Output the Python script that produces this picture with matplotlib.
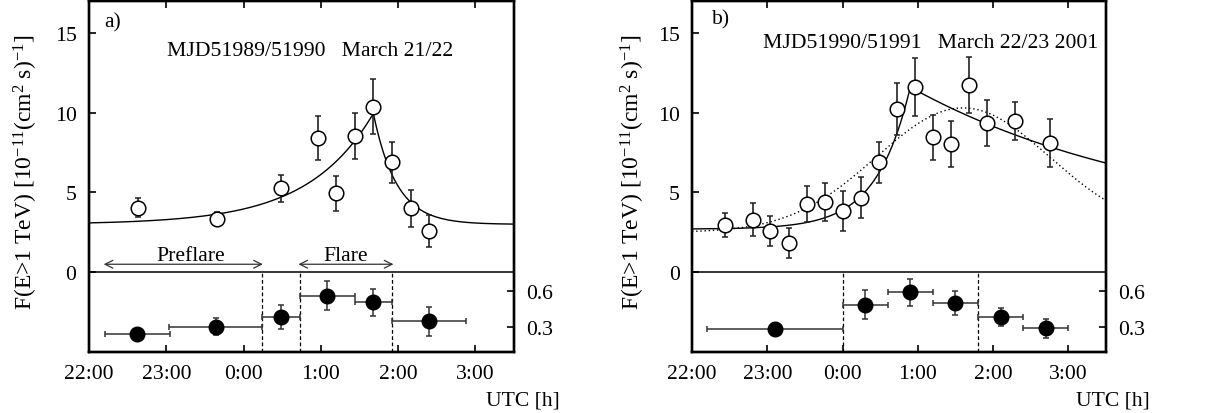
import numpy as np
import matplotlib.pyplot as plt

plt.rcParams['font.family'] = ['Liberation Serif', 'DejaVu Serif']
plt.rcParams['font.size'] = 15.6
plt.rcParams['mathtext.fontset'] = 'custom'
plt.rcParams['mathtext.rm'] = 'Liberation Serif'
plt.rcParams['mathtext.it'] = 'Liberation Serif:italic'

# time axis: hours relative to 0:00 UTC
hour_ticks = [-2, -1, 0, 1, 2, 3]
hour_labels = ['22:00', '23:00', '0:00', '1:00', '2:00', '3:00']

# panel a) flux points
a_t = [-1.37, -0.35, 0.48, 0.96, 1.20, 1.44, 1.68, 1.92, 2.165, 2.40]
a_flux = [4.05, 3.33, 5.25, 8.42, 4.94, 8.54, 10.38, 6.88, 4.0, 2.6]
a_err = [0.6, 0.45, 0.85, 1.4, 1.12, 1.45, 1.74, 1.3, 1.16, 1.0]
# base, amplitude, peak time, rise, decay
a_fit = [3.0, 6.95, 1.68, 0.85, 0.3]

# panel a) hardness ratio points
a_hr_t = [-1.375, -0.36, 0.48, 1.085, 1.68, 2.40]
a_hr_terr = [0.42, 0.6, 0.245, 0.36, 0.24, 0.48]
a_hr = [0.25, 0.305, 0.385, 0.56, 0.505, 0.35]
a_hr_err = [0.04, 0.07, 0.1, 0.12, 0.11, 0.12]
a_cuts = [0.24, 0.725, 1.92]

# panel b) flux points
b_t = [-1.555, -1.195, -0.96, -0.71, -0.477, -0.233, 0.007, 0.24, 0.48,
       0.72, 0.96, 1.20, 1.44, 1.68, 1.925, 2.285, 2.76]
b_flux = [2.96, 3.29, 2.58, 1.85, 4.25, 4.38, 3.85, 4.67, 6.88,
          10.25, 11.6, 8.46, 8.04, 11.75, 9.38, 9.48, 8.12]
b_err = [0.75, 1.05, 0.94, 0.94, 1.13, 1.2, 1.25, 1.3, 1.3,
         1.62, 1.8, 1.42, 1.43, 1.75, 1.44, 1.2, 1.5]
b_fit = [2.7, 8.9, 0.9, 0.45, 3.4]
# base, amplitude, centre, width of the dotted gaussian
b_gauss = [2.5, 7.8, 1.6, 1.15]

# panel b) hardness ratio points
b_hr_t = [-0.9, 0.3, 0.9, 1.5, 2.1, 2.7]
b_hr_terr = [0.9, 0.3, 0.3, 0.3, 0.3, 0.3]
b_hr = [0.29, 0.485, 0.587, 0.5, 0.385, 0.292]
b_hr_err = [0.05, 0.12, 0.11, 0.1, 0.07, 0.08]
b_cuts = [0.0, 1.8]

ylab = r'F(E>1 TeV) [10$^{-11}$(cm$^{2}$ s)$^{-1}$]'

fig = plt.figure(figsize=(12.16, 4.14), dpi=100)
ax_a = fig.add_axes([89/1216, 61/414, 425/1216, 351/414])
ax_b = fig.add_axes([692/1216, 61/414, 414/1216, 351/414])

tt = np.linspace(-2, 3.5, 600)


def burst(t, p):
    base, amp, t0, tr, td = p
    return np.where(t < t0, base + amp*np.exp((t - t0)/tr),
                    base + amp*np.exp(-(t - t0)/td))


def frame(ax, hr_t, hr, hr_terr, hr_err, cuts):
    ax.set_xlim(-2, 3.5)
    ax.set_ylim(-5, 17)
    ax.set_xticks(hour_ticks)
    ax.set_xticklabels(hour_labels)
    ax.set_yticks([0, 5, 10, 15])
    ax.tick_params(direction='in', length=5, width=1.2, top=True,
                   bottom=True, right=False, pad=9)
    for s in ax.spines.values():
        s.set_linewidth(1.7)
    ax.axhline(0, color='k', lw=1.1)
    ax.vlines(cuts, -5, 0, colors='k', linestyles=(0, (3, 2)), lw=0.9)

    # hardness ratio on the right axis, lower strip
    tw = ax.twinx()
    tw.set_ylim(0.1, 0.1 + 0.65*22/5)
    tw.set_yticks([0.3, 0.6])
    tw.set_yticklabels(['0.3', '0.6'])
    tw.tick_params(direction='in', length=5, width=1.2, pad=9)
    for s in tw.spines.values():
        s.set_linewidth(1.7)
    tw.errorbar(hr_t, hr, xerr=hr_terr, yerr=hr_err, fmt='o', ms=10.5,
                color='k', ecolor='#333333', elinewidth=1.1, capsize=2.5,
                capthick=1.1)
    return tw


def flux(ax, t, f, e):
    ax.errorbar(t, f, yerr=e, fmt='o', ms=10.5, mfc='white', mec='k',
                mew=1.1, ecolor='#222222', elinewidth=1.2, capsize=2.5,
                capthick=1.2, zorder=3)


# panel a
frame(ax_a, a_hr_t, a_hr, a_hr_terr, a_hr_err, a_cuts)
ax_a.plot(tt, burst(tt, a_fit), color='k', lw=1.0)
flux(ax_a, a_t, a_flux, a_err)
ax_a.text(0.036, 0.94, 'a)', transform=ax_a.transAxes, va='center')
ax_a.text(0.86, 13.9, 'MJD51989/51990   March 21/22', ha='center', va='center')
ax_a.annotate('', xy=(0.25, 0.5), xytext=(-1.81, 0.5),
              arrowprops=dict(arrowstyle='<->', lw=0.9, color='#333333',
                              mutation_scale=14, shrinkA=0, shrinkB=0))
ax_a.annotate('', xy=(1.94, 0.5), xytext=(0.71, 0.5),
              arrowprops=dict(arrowstyle='<->', lw=0.9, color='#333333',
                              mutation_scale=14, shrinkA=0, shrinkB=0))
ax_a.text(-0.68, 1.05, 'Preflare', ha='center', va='center')
ax_a.text(1.32, 1.05, 'Flare', ha='center', va='center')

# panel b
frame(ax_b, b_hr_t, b_hr, b_hr_terr, b_hr_err, b_cuts)
ax_b.plot(tt, burst(tt, b_fit), color='k', lw=1.0)
g0, g1, g2, g3 = b_gauss
ax_b.plot(tt, g0 + g1*np.exp(-(tt - g2)**2/(2*g3**2)), color='k', lw=1.0,
          linestyle=(0, (1, 2)))
flux(ax_b, b_t, b_flux, b_err)
ax_b.text(0.048, 0.949, 'b)', transform=ax_b.transAxes, va='center')
ax_b.text(1.17, 14.4, 'MJD51990/51991   March 22/23 2001', ha='center',
          va='center')

# axis labels
fig.text(26/1216, 1 - 172/414, ylab, rotation=90, ha='center', va='center',
         fontsize=17)
fig.text(633/1216, 1 - 172/414, ylab, rotation=90, ha='center', va='center',
         fontsize=17)
fig.text(560/1216, 1 - 401/414, 'UTC [h]', ha='right', va='center')
fig.text(1150/1216, 1 - 401/414, 'UTC [h]', ha='right', va='center')

fig.savefig('out.png', dpi=100)
